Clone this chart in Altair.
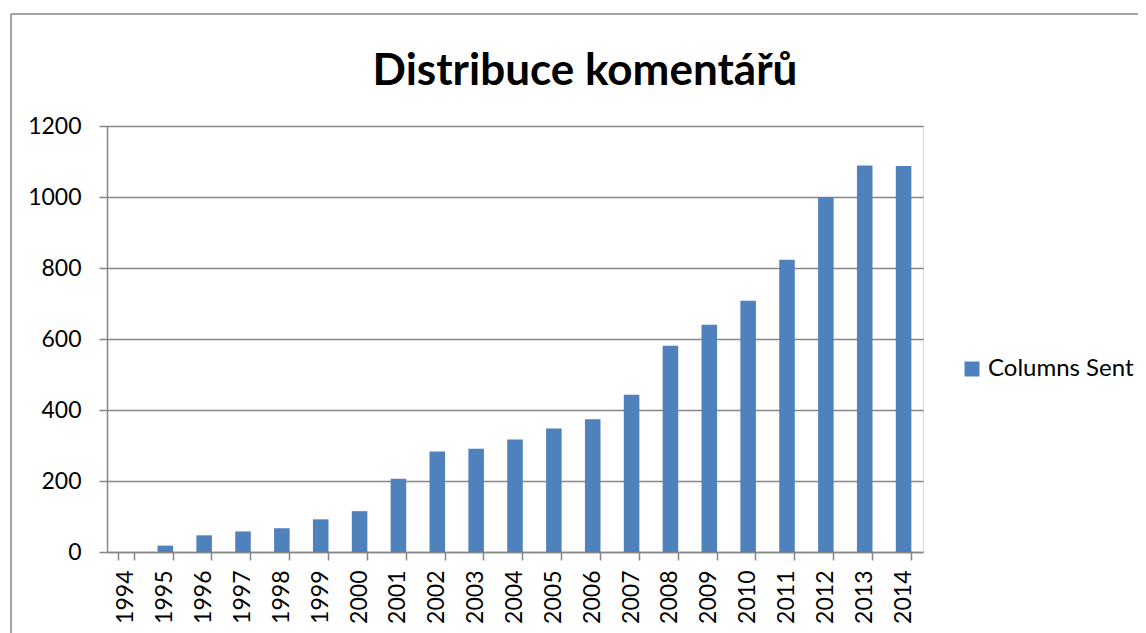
import altair as alt
import pandas as pd

years = ["1994", "1995", "1996", "1997", "1998", "1999", "2000", "2001", "2002", "2003",
         "2004", "2005", "2006", "2007", "2008", "2009", "2010", "2011", "2012", "2013", "2014"]
columns_sent = [0, 18, 47, 58, 67, 92, 115, 206, 283, 291,
                317, 348, 374, 443, 581, 640, 708, 823, 1000, 1089, 1087]
series_name = "Columns Sent"
y_ticks = [0, 200, 400, 600, 800, 1000, 1200]
title_text = "Distribuce komentářů"

df = pd.DataFrame({"year": years, "value": columns_sent, "series": [series_name] * len(years)})

FONT = "Lato"
GRAY = "#868686"
BLUE = "#4F81BD"

bars = alt.Chart(df).mark_bar(color=BLUE).encode(
    x=alt.X("year:O", title=None,
            scale=alt.Scale(paddingInner=0.6, paddingOuter=0.3),
            axis=alt.Axis(labelAngle=270, labelAlign="right", labelBaseline="middle",
                          labelFontSize=23, labelFont=FONT, labelColor="black",
                          labelPadding=10, tickSize=8, tickColor=GRAY, tickWidth=1.5,
                          domainColor=GRAY, domainWidth=1.5,
                          bandPosition=1, tickExtra=True, grid=False)),
    y=alt.Y("value:Q", title=None,
            scale=alt.Scale(domain=[0, 1200], nice=False),
            axis=alt.Axis(values=y_ticks, format="d", labelFontSize=23, labelFont=FONT,
                          labelColor="black",
                          labelPadding=18, tickSize=8, tickColor=GRAY, tickWidth=1.5,
                          domainColor=GRAY, domainWidth=1.5,
                          grid=True, gridColor=GRAY, gridWidth=1.5)),
    color=alt.Color("series:N", scale=alt.Scale(range=[BLUE]),
                    legend=alt.Legend(title=None, orient="none", legendX=853, legendY=231,
                                      symbolType="square", symbolSize=225, symbolStrokeWidth=0,
                                      labelFontSize=24, labelFont=FONT, labelColor="black",
                                      labelOffset=4)),
)

one = alt.Data(values=[{}])
border_top = alt.Chart(one).mark_rule(color=GRAY, strokeWidth=1.5).encode(
    x=alt.value(-96), x2=alt.value(1100), y=alt.value(-112))
border_left = alt.Chart(one).mark_rule(color=GRAY, strokeWidth=1.5).encode(
    x=alt.value(-96), y=alt.value(-112), y2=alt.value(600))
title = alt.Chart(one).mark_text(font=FONT, fontSize=44, fontWeight="bold", color="black",
                                 align="center", baseline="alphabetic").encode(
    x=alt.value(478), y=alt.value(-41), text=alt.value(title_text))

chart = alt.layer(bars, border_top, border_left, title).properties(
    width=816, height=426,
    autosize=alt.AutoSizeParams(type="none"),
    padding={"left": 99, "top": 118, "right": 215, "bottom": 100},
).configure_view(stroke=None).configure(background="white")

chart.save("out.html", embed_options={"renderer": "svg", "actions": False})
